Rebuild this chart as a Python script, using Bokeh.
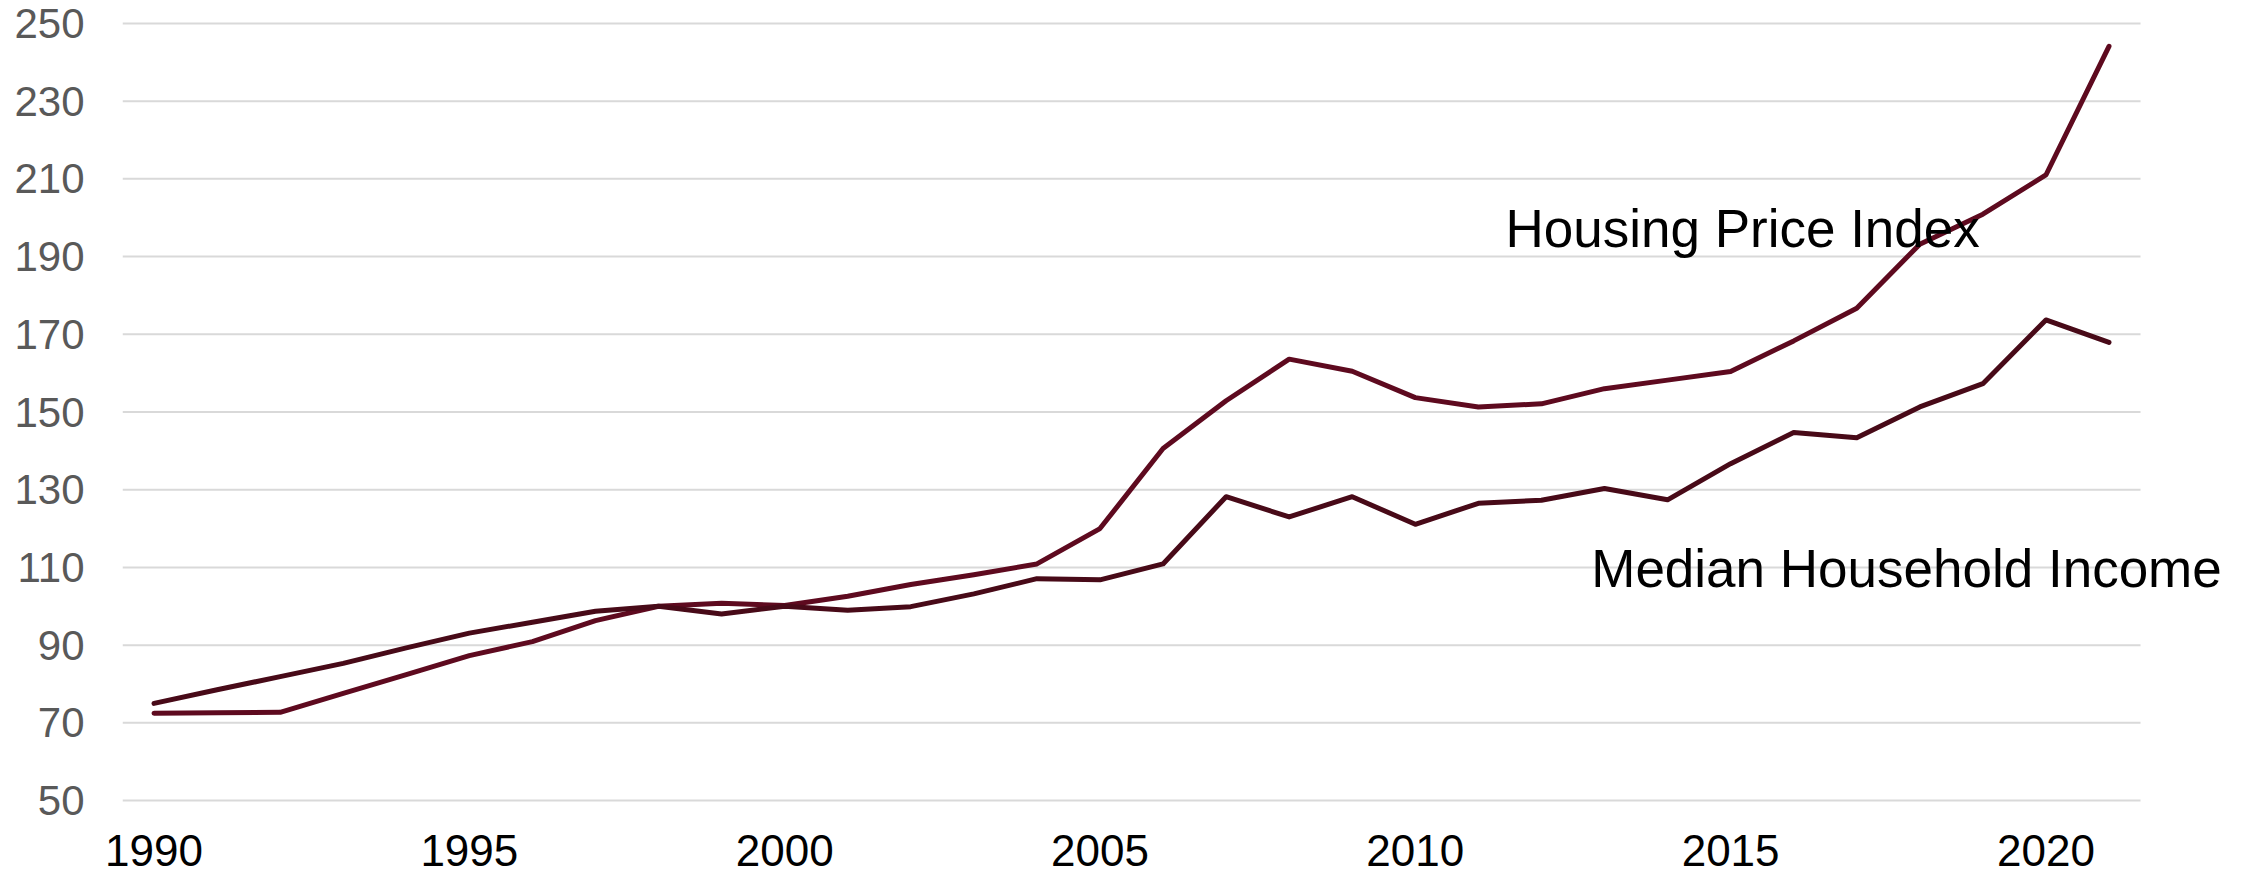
from bokeh.plotting import figure
from bokeh.models import Range1d, Label, FixedTicker
from bokeh.embed import file_html
from bokeh.resources import INLINE

years = list(range(1990, 2022))
housing_price_index = [72.5, 72.6, 72.7, 77.6, 82.4, 87.3, 90.9, 96.3, 100.0, 100.8,
                       100.2, 102.6, 105.6, 108.1, 110.9, 120.0, 140.6, 152.9, 163.6, 160.5,
                       153.7, 151.3, 152.1, 156.0, 158.2, 160.4, 168.3, 176.7, 193.2, 200.9,
                       211.0, 244.1]
median_household_income = [75.0, 78.5, 81.9, 85.3, 89.3, 93.1, 95.9, 98.7, 100.0, 98.0,
                           100.0, 99.0, 99.9, 103.2, 107.1, 106.8, 110.9, 128.2, 123.0, 128.2,
                           121.1, 126.5, 127.3, 130.3, 127.4, 136.7, 144.7, 143.4, 151.3, 157.3,
                           173.7, 167.9]
y_ticks = [50, 70, 90, 110, 130, 150, 170, 190, 210, 230, 250]
x_ticks = [1990, 1995, 2000, 2005, 2010, 2015, 2020]
series_labels = ["Housing Price Index", "Median Household Income"]

# category-style padding of half a year on each side of the data
x_start = years[0] - 0.5
x_end = years[-1] + 0.5

p = figure(width=2254, height=879, output_backend="svg", toolbar_location=None,
           x_range=Range1d(x_start, x_end + 1.744), y_range=Range1d(49.5, 250.5),
           min_border_left=122, min_border_right=4, min_border_top=21, min_border_bottom=77)
p.outline_line_color = None
p.background_fill_color = "white"
p.border_fill_color = "white"
p.xgrid.grid_line_color = None
p.ygrid.grid_line_color = None

# horizontal gridlines limited to the category span
p.segment(x0=[x_start] * len(y_ticks), y0=y_ticks, x1=[x_end] * len(y_ticks), y1=y_ticks,
          line_color="#d9d9d9", line_width=2)

p.line(years, housing_price_index, line_color="#5e0a1f", line_width=5, line_cap="round", line_join="round")
p.line(years, median_household_income, line_color="#480a18", line_width=5, line_cap="round", line_join="round")

p.xaxis.ticker = FixedTicker(ticks=x_ticks)
p.yaxis.ticker = FixedTicker(ticks=y_ticks)
for ax in (p.xaxis[0], p.yaxis[0]):
    ax.axis_line_color = None
    ax.major_tick_line_color = None
    ax.minor_tick_line_color = None
    ax.major_tick_out = 0
    ax.major_tick_in = 0
    ax.minor_tick_out = 0
    ax.minor_tick_in = 0
p.xaxis.major_label_text_font = "Liberation Sans"
p.xaxis.major_label_text_font_size = "44px"
p.yaxis.major_label_text_font = "Liberation Sans"
p.yaxis.major_label_text_font_size = "42px"
p.xaxis.major_label_text_color = "#000000"
p.yaxis.major_label_text_color = "#595959"
p.yaxis.major_label_standoff = 38
p.xaxis.major_label_standoff = 32

p.add_layout(Label(x=2011.43, y=197.1, text=series_labels[0], text_font="Liberation Sans",
                   text_font_size="53px", text_color="#000000", text_baseline="alphabetic"))
p.add_layout(Label(x=2012.79, y=109.6, text=series_labels[1], text_font="Liberation Sans",
                   text_font_size="53px", text_color="#000000", text_baseline="alphabetic"))

open("out.html", "w").write(file_html(p, INLINE))
